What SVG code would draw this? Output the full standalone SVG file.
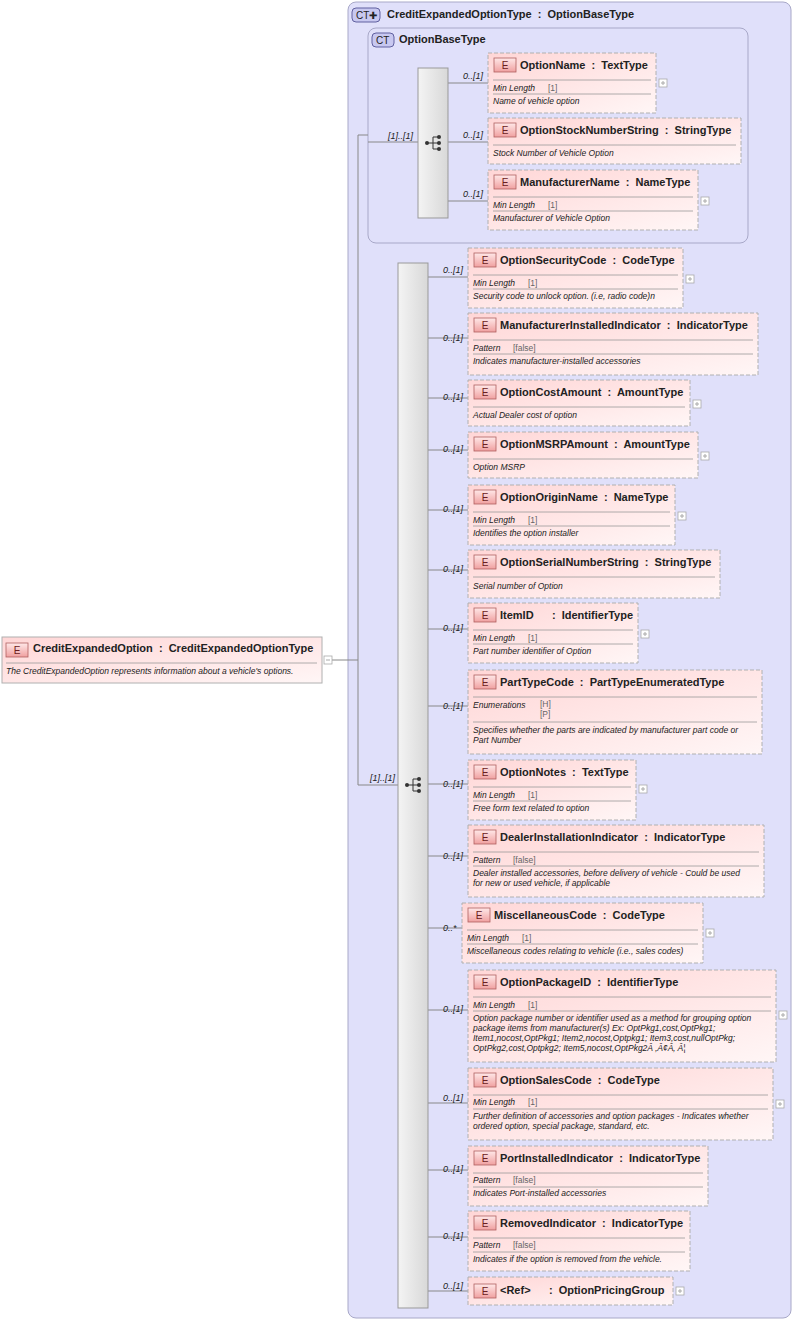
<svg xmlns="http://www.w3.org/2000/svg" width="794" height="1321" viewBox="0 0 794 1321" xml:space="preserve">
<style>
text{font-family:"Liberation Sans",Arial,sans-serif;fill:#222;white-space:pre}
.t{font-size:11px;font-weight:bold}
.f{font-size:8.5px;font-style:italic}
.v{font-size:8.5px;fill:#666}
.o{font-size:9px;font-style:italic}
.bx{fill:url(#pk);stroke:#b0b0b0;stroke-dasharray:4,2}
.eb{fill:url(#eb);stroke:#b06060;stroke-width:0.8}
.el{font-size:10px;fill:#6a2020}
.sep{stroke:#999;stroke-width:0.8}
.c{stroke:#888;fill:none;stroke-width:1}
.pl{fill:#fff;stroke:#aaa;stroke-width:0.8}
</style>
<defs>
<linearGradient id="pk" x1="0" y1="0" x2="1" y2="1"><stop offset="0" stop-color="#ffd6d6"/><stop offset="1" stop-color="#fff6f6"/></linearGradient>
<linearGradient id="eb" x1="0" y1="0" x2="0" y2="1"><stop offset="0" stop-color="#ffe8e8"/><stop offset="1" stop-color="#f0a0a0"/></linearGradient>
<linearGradient id="sq" x1="0" y1="0" x2="1" y2="0"><stop offset="0" stop-color="#f4f4f4"/><stop offset="1" stop-color="#d8d8d8"/></linearGradient>
<g id="ico"><circle cx="-6" cy="0" r="2" fill="#333"/><path d="M-6 0H0M0 -6V6M0 -6H5M0 0H5M0 6H5" stroke="#333" fill="none"/><circle cx="6" cy="-6" r="2" fill="#333"/><circle cx="6" cy="0" r="2" fill="#333"/><circle cx="6" cy="6" r="2" fill="#333"/></g>
<g id="plus"><rect x="0" y="0" width="8" height="8" class="pl"/><path d="M2 4H6M4 2V6" stroke="#aaa"/></g>
<g id="E"><rect x="0" y="0" width="22" height="14" class="eb"/><text x="11" y="11" class="el" text-anchor="middle">E</text></g>
</defs>
<g id="ct-outer">
<rect x="348" y="2" width="443" height="1316" rx="8" fill="#e0e0fa" stroke="#a8a8c8"/>
<rect x="352" y="8" width="28" height="14" rx="4" fill="#c8c8f0" stroke="#6060a0"/><text x="356" y="19" font-size="10" fill="#303070">CT✚</text>
<text x="387" y="18" class="t">CreditExpandedOptionType  :  OptionBaseType</text>
</g>
<g id="ct-base">
<rect x="368" y="28" width="380" height="215" rx="8" fill="#e0e0fa" stroke="#a8a8c8"/>
<rect x="372" y="33" width="22" height="14" rx="4" fill="#c8c8f0" stroke="#6060a0"/><text x="376" y="44" font-size="10" fill="#303070">CT</text>
<text x="399" y="43" class="t">OptionBaseType</text>
</g>
<g id="connectors">
<path class="c" d="M332 660H358M358 135V785M358 135H368M368 142H418M358 785H398"/>
<text x="388" y="139" class="o">[1]..[1]</text>
<text x="370" y="781" class="o">[1]..[1]</text>
<path class="c" d="M448 83H488M448 142H488M448 201H488"/>
<text x="463" y="79" class="o">0..[1]</text><text x="463" y="138" class="o">0..[1]</text><text x="463" y="197" class="o">0..[1]</text>
<path class="c" d="M428 277H468M428 338H468M428 398H468M428 450H468M428 510H468M428 570H468M428 629H468M428 706H468M428 784H468M428 856H468M428 928H462M428 1010H468M428 1103H468M428 1170H468M428 1237H468M428 1291H468"/>
<text x="443" y="273" class="o">0..[1]</text><text x="443" y="341" class="o">0..[1]</text><text x="443" y="400" class="o">0..[1]</text><text x="443" y="452" class="o">0..[1]</text><text x="443" y="512" class="o">0..[1]</text><text x="443" y="572" class="o">0..[1]</text><text x="443" y="631" class="o">0..[1]</text><text x="443" y="709" class="o">0..[1]</text><text x="443" y="787" class="o">0..[1]</text><text x="443" y="859" class="o">0..[1]</text><text x="443" y="931" class="o">0..*</text><text x="443" y="1012" class="o">0..[1]</text><text x="443" y="1101" class="o">0..[1]</text><text x="443" y="1172" class="o">0..[1]</text><text x="443" y="1239" class="o">0..[1]</text><text x="443" y="1289" class="o">0..[1]</text>
</g>
<g id="seq1"><rect x="418" y="68" width="30" height="150" fill="url(#sq)" stroke="#999"/><use href="#ico" x="433" y="143"/></g>
<g id="seq2"><rect x="398" y="263" width="30" height="1045" fill="url(#sq)" stroke="#999"/><use href="#ico" x="413" y="785"/></g>
<g id="root">
<rect x="2" y="637" width="320" height="46" fill="url(#pk)" stroke="#b0b0b0"/><use href="#E" x="6" y="643"/>
<text x="33" y="652" class="t">CreditExpandedOption  :  CreditExpandedOptionType</text>
<line x1="6" y1="663" x2="317" y2="663" class="sep"/>
<text x="6" y="674" class="f">The CreditExpandedOption represents information about a vehicle's options.</text>
<rect x="324" y="656" width="8" height="8" class="pl"/><path d="M326 660H330" stroke="#aaa"/>
</g>
<g id="OptionName" transform="translate(488,53)"><rect width="168" height="60" class="bx"/><use href="#E" x="6" y="5"/><text x="32" y="16" class="t">OptionName  :  TextType</text><line x1="5" y1="27" x2="163" y2="27" class="sep"/><text x="5" y="38" class="f">Min Length</text><text x="60" y="38" class="v">[1]</text><line x1="5" y1="41" x2="163" y2="41" class="sep"/><text x="5" y="51" class="f">Name of vehicle option</text><use href="#plus" x="171" y="26"/></g>
<g id="OptionStockNumberString" transform="translate(488,118)"><rect width="253" height="46" class="bx"/><use href="#E" x="6" y="5"/><text x="32" y="16" class="t">OptionStockNumberString  :  StringType</text><line x1="5" y1="27" x2="248" y2="27" class="sep"/><text x="5" y="38" class="f">Stock Number of Vehicle Option</text></g>
<g id="ManufacturerName" transform="translate(488,170)"><rect width="210" height="60" class="bx"/><use href="#E" x="6" y="5"/><text x="32" y="16" class="t">ManufacturerName  :  NameType</text><line x1="5" y1="27" x2="205" y2="27" class="sep"/><text x="5" y="38" class="f">Min Length</text><text x="60" y="38" class="v">[1]</text><line x1="5" y1="41" x2="205" y2="41" class="sep"/><text x="5" y="51" class="f">Manufacturer of Vehicle Option</text><use href="#plus" x="213" y="27"/></g>
<g id="OptionSecurityCode" transform="translate(468,248)"><rect width="215" height="60" class="bx"/><use href="#E" x="6" y="5"/><text x="32" y="16" class="t">OptionSecurityCode  :  CodeType</text><line x1="5" y1="27" x2="210" y2="27" class="sep"/><text x="5" y="38" class="f">Min Length</text><text x="60" y="38" class="v">[1]</text><line x1="5" y1="41" x2="210" y2="41" class="sep"/><text x="5" y="51" class="f">Security code to unlock option. (i.e, radio code)n</text><use href="#plus" x="218" y="27"/></g>
<g id="ManufacturerInstalledIndicator" transform="translate(468,313)"><rect width="290" height="62" class="bx"/><use href="#E" x="6" y="5"/><text x="32" y="16" class="t">ManufacturerInstalledIndicator  :  IndicatorType</text><line x1="5" y1="27" x2="285" y2="27" class="sep"/><text x="5" y="38" class="f">Pattern</text><text x="45" y="38" class="v">[false]</text><line x1="5" y1="41" x2="285" y2="41" class="sep"/><text x="5" y="51" class="f">Indicates manufacturer-installed accessories</text></g>
<g id="OptionCostAmount" transform="translate(468,380)"><rect width="222" height="46" class="bx"/><use href="#E" x="6" y="5"/><text x="32" y="16" class="t">OptionCostAmount  :  AmountType</text><line x1="5" y1="27" x2="217" y2="27" class="sep"/><text x="5" y="38" class="f">Actual Dealer cost of option</text><use href="#plus" x="225" y="20"/></g>
<g id="OptionMSRPAmount" transform="translate(468,432)"><rect width="230" height="46" class="bx"/><use href="#E" x="6" y="5"/><text x="32" y="16" class="t">OptionMSRPAmount  :  AmountType</text><line x1="5" y1="27" x2="225" y2="27" class="sep"/><text x="5" y="38" class="f">Option MSRP</text><use href="#plus" x="233" y="20"/></g>
<g id="OptionOriginName" transform="translate(468,485)"><rect width="207" height="60" class="bx"/><use href="#E" x="6" y="5"/><text x="32" y="16" class="t">OptionOriginName  :  NameType</text><line x1="5" y1="27" x2="202" y2="27" class="sep"/><text x="5" y="38" class="f">Min Length</text><text x="60" y="38" class="v">[1]</text><line x1="5" y1="41" x2="202" y2="41" class="sep"/><text x="5" y="51" class="f">Identifies the option installer</text><use href="#plus" x="210" y="27"/></g>
<g id="OptionSerialNumberString" transform="translate(468,550)"><rect width="252" height="48" class="bx"/><use href="#E" x="6" y="5"/><text x="32" y="16" class="t">OptionSerialNumberString  :  StringType</text><line x1="5" y1="27" x2="247" y2="27" class="sep"/><text x="5" y="39" class="f">Serial number of Option</text></g>
<g id="ItemID" transform="translate(468,603)"><rect width="170" height="60" class="bx"/><use href="#E" x="6" y="5"/><text x="32" y="16" class="t">ItemID      :  IdentifierType</text><line x1="5" y1="27" x2="165" y2="27" class="sep"/><text x="5" y="38" class="f">Min Length</text><text x="60" y="38" class="v">[1]</text><line x1="5" y1="41" x2="165" y2="41" class="sep"/><text x="5" y="51" class="f">Part number identifier of Option</text><use href="#plus" x="173" y="27"/></g>
<g id="PartTypeCode" transform="translate(468,670)"><rect width="294" height="84" class="bx"/><use href="#E" x="6" y="5"/><text x="32" y="16" class="t">PartTypeCode  :  PartTypeEnumeratedType</text><line x1="5" y1="27" x2="289" y2="27" class="sep"/><text x="5" y="38" class="f">Enumerations</text><text x="72" y="37" class="v">[H]</text><text x="72" y="47" class="v">[P]</text><line x1="5" y1="52" x2="289" y2="52" class="sep"/><text x="5" y="63" class="f">Specifies whether the parts are indicated by manufacturer part code or</text><text x="5" y="73" class="f">Part Number</text></g>
<g id="OptionNotes" transform="translate(468,760)"><rect width="168" height="60" class="bx"/><use href="#E" x="6" y="5"/><text x="32" y="16" class="t">OptionNotes  :  TextType</text><line x1="5" y1="27" x2="163" y2="27" class="sep"/><text x="5" y="38" class="f">Min Length</text><text x="60" y="38" class="v">[1]</text><line x1="5" y1="41" x2="163" y2="41" class="sep"/><text x="5" y="51" class="f">Free form text related to option</text><use href="#plus" x="171" y="25"/></g>
<g id="DealerInstallationIndicator" transform="translate(468,825)"><rect width="296" height="72" class="bx"/><use href="#E" x="6" y="5"/><text x="32" y="16" class="t">DealerInstallationIndicator  :  IndicatorType</text><line x1="5" y1="27" x2="291" y2="27" class="sep"/><text x="5" y="38" class="f">Pattern</text><text x="45" y="38" class="v">[false]</text><line x1="5" y1="41" x2="291" y2="41" class="sep"/><text x="5" y="51" class="f">Dealer installed accessories, before delivery of vehicle - Could be used</text><text x="5" y="61" class="f">for new or used vehicle, if applicable</text></g>
<g id="MiscellaneousCode" transform="translate(462,903)"><rect width="241" height="60" class="bx"/><use href="#E" x="6" y="5"/><text x="32" y="16" class="t">MiscellaneousCode  :  CodeType</text><line x1="5" y1="27" x2="236" y2="27" class="sep"/><text x="5" y="38" class="f">Min Length</text><text x="60" y="38" class="v">[1]</text><line x1="5" y1="41" x2="236" y2="41" class="sep"/><text x="5" y="51" class="f">Miscellaneous codes relating to vehicle (i.e., sales codes)</text><use href="#plus" x="244" y="26"/></g>
<g id="OptionPackageID" transform="translate(468,970)"><rect width="308" height="92" class="bx"/><use href="#E" x="6" y="5"/><text x="32" y="16" class="t">OptionPackageID  :  IdentifierType</text><line x1="5" y1="27" x2="303" y2="27" class="sep"/><text x="5" y="38" class="f">Min Length</text><text x="60" y="38" class="v">[1]</text><line x1="5" y1="41" x2="303" y2="41" class="sep"/><text x="5" y="51" class="f">Option package number or identifier used as a method for grouping option</text><text x="5" y="61" class="f">package items from manufacturer(s) Ex: OptPkg1,cost,OptPkg1;</text><text x="5" y="71" class="f">Item1,nocost,OptPkg1; Item2,nocost,Optpkg1; Item3,cost,nullOptPkg;</text><text x="5" y="81" class="f">OptPkg2,cost,Optpkg2; Item5,nocost,OptPkg2Â ‚Â¢Â‚ Â¦</text><use href="#plus" x="311" y="41"/></g>
<g id="OptionSalesCode" transform="translate(468,1068)"><rect width="305" height="72" class="bx"/><use href="#E" x="6" y="5"/><text x="32" y="16" class="t">OptionSalesCode  :  CodeType</text><line x1="5" y1="27" x2="300" y2="27" class="sep"/><text x="5" y="37" class="f">Min Length</text><text x="60" y="37" class="v">[1]</text><line x1="5" y1="41" x2="300" y2="41" class="sep"/><text x="5" y="51" class="f">Further definition of accessories and option packages - Indicates whether</text><text x="5" y="61" class="f">ordered option, special package, standard, etc.</text><use href="#plus" x="308" y="32"/></g>
<g id="PortInstalledIndicator" transform="translate(468,1146)"><rect width="240" height="60" class="bx"/><use href="#E" x="6" y="5"/><text x="32" y="16" class="t">PortInstalledIndicator  :  IndicatorType</text><line x1="5" y1="27" x2="235" y2="27" class="sep"/><text x="5" y="37" class="f">Pattern</text><text x="45" y="37" class="v">[false]</text><line x1="5" y1="41" x2="235" y2="41" class="sep"/><text x="5" y="50" class="f">Indicates Port-installed accessories</text></g>
<g id="RemovedIndicator" transform="translate(468,1211)"><rect width="222" height="60" class="bx"/><use href="#E" x="6" y="5"/><text x="32" y="16" class="t">RemovedIndicator  :  IndicatorType</text><line x1="5" y1="27" x2="217" y2="27" class="sep"/><text x="5" y="37" class="f">Pattern</text><text x="45" y="37" class="v">[false]</text><line x1="5" y1="41" x2="217" y2="41" class="sep"/><text x="5" y="51" class="f">Indicates if the option is removed from the vehicle.</text></g>
<g id="OptionPricingGroup" transform="translate(468,1277)"><rect width="205" height="28" class="bx"/><use href="#E" x="6" y="7"/><text x="32" y="17" class="t">&lt;Ref&gt;      :  OptionPricingGroup</text><use href="#plus" x="208" y="10"/></g>
</svg>
